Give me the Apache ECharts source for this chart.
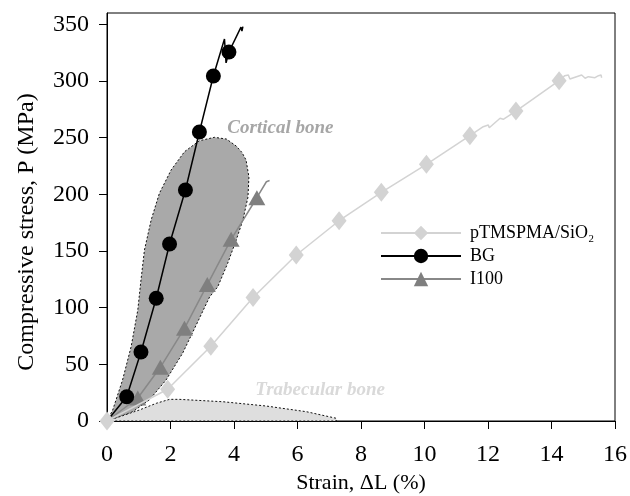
<!DOCTYPE html>
<html>
<head>
<meta charset="utf-8">
<script src="https://cdn.jsdelivr.net/npm/echarts@6/dist/echarts.min.js"></script>
<style>
  html, body { margin: 0; padding: 0; background: #fff; }
  #chart { width: 630px; height: 496px; }
</style>
</head>
<body>
<div id="chart"></div>
<script>
// Compressive stress–strain curves (MPa vs %)

const seriesNames = ['pTMSPMA/SiO\u2082', 'BG', 'I100'];

// pTMSPMA/SiO2 curve; marked = 1 where a diamond is drawn
const ptmsStrain = [0, 1.91, 3.27, 4.60, 5.96, 7.31, 8.64, 10.06, 11.43, 11.85, 12.01, 12.04, 12.38, 12.48, 12.88, 14.24, 14.42, 14.53, 14.58, 14.64, 14.95, 15.06, 15.16, 15.37, 15.48, 15.56, 15.58];
const ptmsStress = [0, 28, 66, 109, 146.5, 176.7, 201.8, 226.5, 251.7, 259.7, 261.2, 258.8, 267.1, 266.2, 273.5, 300.3, 304.7, 305.3, 301.7, 302.9, 305.3, 302.4, 303.8, 302.9, 304.7, 305.3, 302.9];
const ptmsMarked = [1, 1, 1, 1, 1, 1, 1, 1, 1, 0, 0, 0, 0, 0, 1, 1, 0, 0, 0, 0, 0, 0, 0, 0, 0, 0, 0];

// BG curve
const bgStrain = [0, 0.62, 1.07, 1.55, 1.97, 2.47, 2.91, 3.35, 3.70, 3.75, 3.84, 4.22, 4.25, 4.28];
const bgStress = [0, 21.4, 60.9, 108.3, 156.2, 203.8, 255, 304.4, 337, 316, 325.6, 347.5, 344, 348];
const bgMarked = [0, 1, 1, 1, 1, 1, 1, 1, 0, 0, 1, 0, 0, 0];

// I100 curve
const i100Strain = [0, 0.97, 1.68, 2.44, 3.16, 3.91, 4.72, 5.02, 5.06, 5.07, 5.12];
const i100Stress = [0, 20.3, 47.4, 81.8, 120.4, 160.3, 197, 211.1, 212.6, 210, 212.2];
const i100Marked = [0, 1, 1, 1, 1, 1, 1, 0, 0, 0, 0];

// Cortical bone envelope (closed outline)
const corticalStrain = [0, 0.18, 0.49, 0.76, 0.97, 1.07, 1.18, 1.39, 1.65, 2.02, 2.44, 2.91, 3.38, 3.76, 4.07, 4.25, 4.38, 4.47, 4.44, 4.28, 4.07, 3.80, 3.49, 3.23, 2.81, 2.38, 1.86, 1.33, 0.81, 0.28];
const corticalStress = [0, 9.7, 36.2, 65.6, 97.9, 124.4, 150.9, 177.3, 200.9, 221.5, 237.6, 247.3, 250.3, 248.8, 242.6, 237.0, 230.3, 215.3, 197.6, 177.3, 159.7, 139.1, 118.5, 109.4, 84.7, 59.7, 36.2, 18.5, 8.2, 2.4];

// Trabecular bone envelope (closed outline)
const trabecularStrain = [0, 1.02, 1.55, 1.97, 2.28, 3.65, 5.02, 6.28, 7.22, 7.22];
const trabecularStress = [0, 9.7, 15.6, 19.1, 19.1, 17.0, 13.2, 8.2, 2.4, 0];

// Region labels
const regionLabels = ['Cortical bone', 'Trabecular bone'];
const regionLabelStrain = [3.79, 4.67];
const regionLabelStress = [258.6, 27.1];
const regionLabelColors = ['#a6a6a6', '#d9d9d9'];

// Axis ticks
const xTicks = [0, 2, 4, 6, 8, 10, 12, 14, 16];
const yTicks = [0, 50, 100, 150, 200, 250, 300, 350];

const serifFont = '"Liberation Serif", "Times New Roman", serif';

function buildLine(strain, stress, marked) {
  return strain.map((x, i) => marked[i]
    ? { value: [x, stress[i]] }
    : { value: [x, stress[i]], symbol: 'none' });
}

function polygonSeries(name, xs, ys, fill) {
  return {
    type: 'custom',
    name: name,
    coordinateSystem: 'cartesian2d',
    silent: true,
    z: 1,
    data: [[xs[0], ys[0]]],
    renderItem: function (params, api) {
      return {
        type: 'polygon',
        shape: { points: xs.map((x, i) => api.coord([x, ys[i]])) },
        style: { fill: fill, stroke: '#111', lineWidth: 1, lineDash: [2, 2] }
      };
    }
  };
}

const chart = echarts.init(document.getElementById('chart'), null, { renderer: 'canvas' });

chart.setOption({
  animation: false,
  backgroundColor: '#fff',
  grid: {
    left: 107, right: 15, top: 13, bottom: 75,
    containLabel: false,
    outerBoundsMode: 'none',
    show: true, borderColor: '#000', borderWidth: 1, backgroundColor: 'transparent'
  },
  legend: {
    data: seriesNames,
    orient: 'vertical',
    left: 375,
    top: 219,
    itemWidth: 80,
    itemHeight: 18,
    itemGap: 5,
    textStyle: { fontFamily: serifFont, fontSize: 18, color: '#000', padding: [0, 0, 0, 4] },
    selectedMode: false
  },
  xAxis: {
    type: 'value',
    min: 0, max: 16, interval: 2,
    name: 'Strain, \u0394L (%)',
    nameLocation: 'middle',
    nameGap: 51,
    nameTextStyle: { fontFamily: serifFont, fontSize: 22, color: '#000' },
    axisLine: { onZero: false, lineStyle: { color: '#000', width: 1 } },
    axisTick: { length: 8, lineStyle: { color: '#000' }, customValues: xTicks },
    axisLabel: { fontFamily: serifFont, fontSize: 24, color: '#000', margin: 22, customValues: xTicks },
    splitLine: { show: false }
  },
  yAxis: {
    type: 'value',
    min: 0, max: 360, interval: 50,
    name: 'Compressive stress, P (MPa)',
    nameLocation: 'middle',
    nameGap: 68,
    nameTextStyle: { fontFamily: serifFont, fontSize: 24, color: '#000', padding: [0, 30, 0, 0] },
    axisLine: { show: true, onZero: false, lineStyle: { color: '#000', width: 1 } },
    axisTick: { show: true, length: 8, lineStyle: { color: '#000' }, customValues: yTicks },
    axisLabel: { fontFamily: serifFont, fontSize: 24, color: '#000', margin: 18, customValues: yTicks },
    splitLine: { show: false }
  },
  series: [
    polygonSeries('Cortical bone', corticalStrain, corticalStress, '#a9a9a9'),
    polygonSeries('Trabecular bone', trabecularStrain, trabecularStress, '#dedede'),
    {
      type: 'custom',
      name: 'region labels',
      coordinateSystem: 'cartesian2d',
      silent: true,
      z: 2,
      data: regionLabelStrain.map((x, i) => [x, regionLabelStress[i]]),
      renderItem: function (params, api) {
        const p = api.coord([api.value(0), api.value(1)]);
        const i = params.dataIndex;
        return {
          type: 'text',
          x: p[0], y: p[1],
          style: {
            text: regionLabels[i],
            fill: regionLabelColors[i],
            font: 'italic bold 19px ' + serifFont,
            align: 'left',
            verticalAlign: 'middle'
          }
        };
      }
    },
    {
      type: 'line',
      name: 'I100',
      z: 3,
      clip: false,
      data: buildLine(i100Strain, i100Stress, i100Marked),
      symbol: 'triangle',
      symbolSize: [17, 15],
      showAllSymbol: true,
      lineStyle: { color: '#888', width: 1.5 },
      itemStyle: { color: '#7f7f7f' }
    },
    {
      type: 'line',
      name: 'BG',
      z: 4,
      clip: false,
      data: buildLine(bgStrain, bgStress, bgMarked),
      symbol: 'circle',
      symbolSize: 15,
      showAllSymbol: true,
      lineStyle: { color: '#000', width: 1.5 },
      itemStyle: { color: '#000' }
    },
    {
      type: 'line',
      name: 'pTMSPMA/SiO\u2082',
      z: 5,
      clip: false,
      data: buildLine(ptmsStrain, ptmsStress, ptmsMarked),
      symbol: 'diamond',
      symbolSize: [15, 19],
      showAllSymbol: true,
      lineStyle: { color: '#d3d3d3', width: 1.5 },
      itemStyle: { color: '#d3d3d3' }
    }
  ]
});
</script>
</body>
</html>
